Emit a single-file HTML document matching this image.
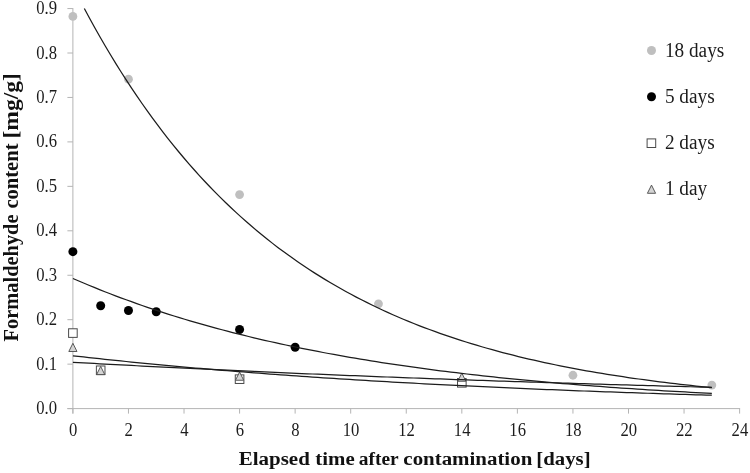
<!DOCTYPE html>
<html><head><meta charset="utf-8"><title>Formaldehyde content</title>
<style>
html,body{margin:0;padding:0;background:#fff;}
body{width:750px;height:473px;overflow:hidden;}
svg{display:block;font-family:"Liberation Serif",serif;}
.tk{font-size:18.5px;fill:#1c1c1c;}
.lg{font-size:20px;fill:#1c1c1c;}
.tt{font-size:19.3px;font-weight:bold;fill:#111;}
.ty{font-size:21.5px;font-weight:bold;fill:#111;}
.ax{stroke:#b4b4b4;stroke-width:1;fill:none;}
.cv{stroke:#1c1c1c;stroke-width:1.25;fill:none;}
.g{fill:#bfbfbf;}
.b{fill:#000;}
.sq{fill:#fff;stroke:#4a4a4a;stroke-width:1;}
.tr{fill:#d4d4d4;stroke:#4a4a4a;stroke-width:0.9;}
</style></head><body>
<svg width="750" height="473" viewBox="0 0 750 473">
<rect width="750" height="473" fill="#fff"/>

<path class="ax" d="M72.9 8.050000000000011V413.6"/>
<path class="ax" d="M67.4 408.6H740.12"/>
<path class="ax" d="M67.4 408.60H72.9"/>
<path class="ax" d="M67.4 364.15H72.9"/>
<path class="ax" d="M67.4 319.70H72.9"/>
<path class="ax" d="M67.4 275.25H72.9"/>
<path class="ax" d="M67.4 230.80H72.9"/>
<path class="ax" d="M67.4 186.35H72.9"/>
<path class="ax" d="M67.4 141.90H72.9"/>
<path class="ax" d="M67.4 97.45H72.9"/>
<path class="ax" d="M67.4 53.00H72.9"/>
<path class="ax" d="M67.4 8.55H72.9"/>
<path class="ax" d="M72.90 408.6V413.6"/>
<path class="ax" d="M128.46 408.6V413.6"/>
<path class="ax" d="M184.02 408.6V413.6"/>
<path class="ax" d="M239.58 408.6V413.6"/>
<path class="ax" d="M295.14 408.6V413.6"/>
<path class="ax" d="M350.70 408.6V413.6"/>
<path class="ax" d="M406.26 408.6V413.6"/>
<path class="ax" d="M461.82 408.6V413.6"/>
<path class="ax" d="M517.38 408.6V413.6"/>
<path class="ax" d="M572.94 408.6V413.6"/>
<path class="ax" d="M628.50 408.6V413.6"/>
<path class="ax" d="M684.06 408.6V413.6"/>
<path class="ax" d="M739.62 408.6V413.6"/>
<text class="tk" transform="translate(57.0 414.10) scale(0.9 1)" text-anchor="end">0.0</text>
<text class="tk" transform="translate(57.0 369.65) scale(0.9 1)" text-anchor="end">0.1</text>
<text class="tk" transform="translate(57.0 325.20) scale(0.9 1)" text-anchor="end">0.2</text>
<text class="tk" transform="translate(57.0 280.75) scale(0.9 1)" text-anchor="end">0.3</text>
<text class="tk" transform="translate(57.0 236.30) scale(0.9 1)" text-anchor="end">0.4</text>
<text class="tk" transform="translate(57.0 191.85) scale(0.9 1)" text-anchor="end">0.5</text>
<text class="tk" transform="translate(57.0 147.40) scale(0.9 1)" text-anchor="end">0.6</text>
<text class="tk" transform="translate(57.0 102.95) scale(0.9 1)" text-anchor="end">0.7</text>
<text class="tk" transform="translate(57.0 58.50) scale(0.9 1)" text-anchor="end">0.8</text>
<text class="tk" transform="translate(57.0 14.05) scale(0.9 1)" text-anchor="end">0.9</text>
<text class="tk" transform="translate(73.20 435.6) scale(0.9 1)" text-anchor="middle">0</text>
<text class="tk" transform="translate(128.76 435.6) scale(0.9 1)" text-anchor="middle">2</text>
<text class="tk" transform="translate(184.32 435.6) scale(0.9 1)" text-anchor="middle">4</text>
<text class="tk" transform="translate(239.88 435.6) scale(0.9 1)" text-anchor="middle">6</text>
<text class="tk" transform="translate(295.44 435.6) scale(0.9 1)" text-anchor="middle">8</text>
<text class="tk" transform="translate(351.00 435.6) scale(0.9 1)" text-anchor="middle">10</text>
<text class="tk" transform="translate(406.56 435.6) scale(0.9 1)" text-anchor="middle">12</text>
<text class="tk" transform="translate(462.12 435.6) scale(0.9 1)" text-anchor="middle">14</text>
<text class="tk" transform="translate(517.68 435.6) scale(0.9 1)" text-anchor="middle">16</text>
<text class="tk" transform="translate(573.24 435.6) scale(0.9 1)" text-anchor="middle">18</text>
<text class="tk" transform="translate(628.80 435.6) scale(0.9 1)" text-anchor="middle">20</text>
<text class="tk" transform="translate(684.36 435.6) scale(0.9 1)" text-anchor="middle">22</text>
<text class="tk" transform="translate(739.92 435.6) scale(0.9 1)" text-anchor="middle">24</text>
<text class="tt" x="238.71" y="465.4" textLength="71.13" lengthAdjust="spacingAndGlyphs">Elapsed</text>
<text class="tt" x="315.39" y="465.4" textLength="39.34" lengthAdjust="spacingAndGlyphs">time</text>
<text class="tt" x="358.88" y="465.4" textLength="39.87" lengthAdjust="spacingAndGlyphs">after</text>
<text class="tt" x="403.36" y="465.4" textLength="128.91" lengthAdjust="spacingAndGlyphs">contamination</text>
<text class="tt" x="536.34" y="465.4" textLength="54.31" lengthAdjust="spacingAndGlyphs">[days]</text>
<text class="ty" transform="translate(17.5 341.40) rotate(-90)" textLength="126.89" lengthAdjust="spacingAndGlyphs">Formaldehyde</text>
<text class="ty" transform="translate(17.5 208.57) rotate(-90)" textLength="65.10" lengthAdjust="spacingAndGlyphs">content</text>
<text class="ty" transform="translate(17.5 138.56) rotate(-90)" textLength="65.43" lengthAdjust="spacingAndGlyphs">[mg/g]</text>
<circle class="g" cx="72.90" cy="16.42" r="4.4"/>
<circle class="g" cx="128.46" cy="79.23" r="4.4"/>
<circle class="g" cx="239.58" cy="194.62" r="4.4"/>
<circle class="g" cx="378.48" cy="303.83" r="4.4"/>
<circle class="g" cx="572.94" cy="375.26" r="4.4"/>
<circle class="g" cx="711.84" cy="385.04" r="4.4"/>
<circle class="b" cx="72.90" cy="251.69" r="4.5"/>
<circle class="b" cx="100.68" cy="305.70" r="4.5"/>
<circle class="b" cx="128.46" cy="310.45" r="4.5"/>
<circle class="b" cx="156.24" cy="311.70" r="4.5"/>
<circle class="b" cx="239.58" cy="329.48" r="4.5"/>
<circle class="b" cx="295.14" cy="347.26" r="4.5"/>
<rect class="sq" x="68.60" y="328.78" width="8.6" height="8.6"/>
<rect class="sq" x="96.38" y="365.98" width="8.6" height="8.6"/>
<rect class="sq" x="235.28" y="374.87" width="8.6" height="8.6"/>
<rect class="sq" x="457.52" y="378.52" width="8.6" height="8.6"/>
<path class="tr" d="M72.90 343.30L77.00 351.50H68.80Z"/>
<path class="tr" d="M100.68 366.42L104.78 374.62H96.58Z"/>
<path class="tr" d="M239.58 372.06L243.68 380.26H235.48Z"/>
<path class="tr" d="M461.82 373.09L465.92 381.29H457.72Z"/>
<path class="cv" d="M84.34 8.55L89.57 18.26L94.80 27.73L100.03 36.97L105.26 45.99L110.49 54.79L115.72 63.37L120.95 71.75L126.18 79.92L131.40 87.90L136.63 95.68L141.86 103.27L147.09 110.68L152.32 117.91L157.55 124.97L162.78 131.85L168.01 138.56L173.24 145.12L178.47 151.51L183.70 157.75L188.93 163.84L194.15 169.77L199.38 175.57L204.61 181.22L209.84 186.74L215.07 192.12L220.30 197.38L225.53 202.50L230.76 207.50L235.99 212.38L241.22 217.15L246.45 221.79L251.67 226.32L256.90 230.75L262.13 235.06L267.36 239.27L272.59 243.38L277.82 247.39L283.05 251.30L288.28 255.12L293.51 258.84L298.74 262.48L303.97 266.02L309.20 269.48L314.42 272.86L319.65 276.15L324.88 279.37L330.11 282.50L335.34 285.56L340.57 288.55L345.80 291.46L351.03 294.30L356.26 297.08L361.49 299.78L366.72 302.42L371.95 305.00L377.17 307.51L382.40 309.97L387.63 312.36L392.86 314.70L398.09 316.97L403.32 319.20L408.55 321.37L413.78 323.48L419.01 325.55L424.24 327.56L429.47 329.53L434.70 331.45L439.92 333.32L445.15 335.15L450.38 336.93L455.61 338.67L460.84 340.37L466.07 342.02L471.30 343.64L476.53 345.21L481.76 346.75L486.99 348.25L492.22 349.72L497.44 351.15L502.67 352.54L507.90 353.90L513.13 355.23L518.36 356.52L523.59 357.79L528.82 359.02L534.05 360.22L539.28 361.40L544.51 362.54L549.74 363.66L554.97 364.75L560.19 365.81L565.42 366.85L570.65 367.87L575.88 368.85L581.11 369.82L586.34 370.76L591.57 371.68L596.80 372.57L602.03 373.45L607.26 374.30L612.49 375.13L617.72 375.94L622.94 376.74L628.17 377.51L633.40 378.26L638.63 379.00L643.86 379.72L649.09 380.42L654.32 381.10L659.55 381.77L664.78 382.42L670.01 383.06L675.24 383.68L680.47 384.28L685.69 384.87L690.92 385.45L696.15 386.01L701.38 386.56L706.61 387.09L711.84 387.61"/>
<path class="cv" d="M72.90 278.45L78.22 280.76L83.55 283.03L88.87 285.26L94.20 287.44L99.52 289.59L104.85 291.71L110.17 293.78L115.50 295.82L120.82 297.82L126.15 299.78L131.47 301.71L136.79 303.61L142.12 305.47L147.44 307.30L152.77 309.10L158.09 310.87L163.42 312.60L168.74 314.30L174.07 315.98L179.39 317.62L184.71 319.23L190.04 320.82L195.36 322.38L200.69 323.91L206.01 325.41L211.34 326.88L216.66 328.33L221.99 329.76L227.31 331.16L232.64 332.53L237.96 333.88L243.28 335.21L248.61 336.51L253.93 337.79L259.26 339.04L264.58 340.28L269.91 341.49L275.23 342.68L280.56 343.85L285.88 345.00L291.20 346.13L296.53 347.24L301.85 348.33L307.18 349.39L312.50 350.45L317.83 351.48L323.15 352.49L328.48 353.49L333.80 354.46L339.12 355.42L344.45 356.37L349.77 357.29L355.10 358.20L360.42 359.10L365.75 359.98L371.07 360.84L376.40 361.69L381.72 362.52L387.05 363.34L392.37 364.14L397.69 364.93L403.02 365.70L408.34 366.46L413.67 367.21L418.99 367.95L424.32 368.67L429.64 369.38L434.97 370.07L440.29 370.76L445.62 371.43L450.94 372.09L456.26 372.73L461.59 373.37L466.91 374.00L472.24 374.61L477.56 375.21L482.89 375.81L488.21 376.39L493.54 376.96L498.86 377.52L504.18 378.07L509.51 378.61L514.83 379.15L520.16 379.67L525.48 380.18L530.81 380.69L536.13 381.18L541.46 381.67L546.78 382.15L552.11 382.61L557.43 383.08L562.75 383.53L568.08 383.97L573.40 384.41L578.73 384.84L584.05 385.26L589.38 385.68L594.70 386.08L600.03 386.48L605.35 386.87L610.67 387.26L616.00 387.64L621.32 388.01L626.65 388.38L631.97 388.73L637.30 389.09L642.62 389.43L647.95 389.77L653.27 390.11L658.59 390.43L663.92 390.76L669.24 391.07L674.57 391.38L679.89 391.69L685.22 391.99L690.54 392.28L695.87 392.57L701.19 392.86L706.52 393.14L711.84 393.41"/>
<path class="cv" d="M72.90 355.79L78.22 356.39L83.55 356.99L88.87 357.58L94.20 358.16L99.52 358.73L104.85 359.30L110.17 359.86L115.50 360.41L120.82 360.96L126.15 361.50L131.47 362.04L136.79 362.57L142.12 363.09L147.44 363.61L152.77 364.12L158.09 364.63L163.42 365.13L168.74 365.62L174.07 366.11L179.39 366.60L184.71 367.07L190.04 367.55L195.36 368.01L200.69 368.47L206.01 368.93L211.34 369.38L216.66 369.83L221.99 370.27L227.31 370.71L232.64 371.14L237.96 371.56L243.28 371.98L248.61 372.40L253.93 372.81L259.26 373.22L264.58 373.62L269.91 374.02L275.23 374.41L280.56 374.80L285.88 375.19L291.20 375.57L296.53 375.94L301.85 376.31L307.18 376.68L312.50 377.05L317.83 377.40L323.15 377.76L328.48 378.11L333.80 378.46L339.12 378.80L344.45 379.14L349.77 379.47L355.10 379.81L360.42 380.13L365.75 380.46L371.07 380.78L376.40 381.09L381.72 381.41L387.05 381.72L392.37 382.02L397.69 382.32L403.02 382.62L408.34 382.92L413.67 383.21L418.99 383.50L424.32 383.79L429.64 384.07L434.97 384.35L440.29 384.62L445.62 384.90L450.94 385.17L456.26 385.43L461.59 385.70L466.91 385.96L472.24 386.21L477.56 386.47L482.89 386.72L488.21 386.97L493.54 387.22L498.86 387.46L504.18 387.70L509.51 387.94L514.83 388.17L520.16 388.40L525.48 388.63L530.81 388.86L536.13 389.09L541.46 389.31L546.78 389.53L552.11 389.74L557.43 389.96L562.75 390.17L568.08 390.38L573.40 390.59L578.73 390.79L584.05 391.00L589.38 391.20L594.70 391.39L600.03 391.59L605.35 391.78L610.67 391.97L616.00 392.16L621.32 392.35L626.65 392.54L631.97 392.72L637.30 392.90L642.62 393.08L647.95 393.25L653.27 393.43L658.59 393.60L663.92 393.77L669.24 393.94L674.57 394.11L679.89 394.27L685.22 394.44L690.54 394.60L695.87 394.76L701.19 394.91L706.52 395.07L711.84 395.22"/>
<path class="cv" d="M72.90 362.28L78.22 362.58L83.55 362.88L88.87 363.17L94.20 363.47L99.52 363.76L104.85 364.05L110.17 364.34L115.50 364.62L120.82 364.91L126.15 365.19L131.47 365.47L136.79 365.75L142.12 366.02L147.44 366.30L152.77 366.57L158.09 366.84L163.42 367.11L168.74 367.38L174.07 367.65L179.39 367.91L184.71 368.17L190.04 368.44L195.36 368.69L200.69 368.95L206.01 369.21L211.34 369.46L216.66 369.72L221.99 369.97L227.31 370.22L232.64 370.46L237.96 370.71L243.28 370.95L248.61 371.20L253.93 371.44L259.26 371.68L264.58 371.92L269.91 372.15L275.23 372.39L280.56 372.62L285.88 372.86L291.20 373.09L296.53 373.32L301.85 373.54L307.18 373.77L312.50 374.00L317.83 374.22L323.15 374.44L328.48 374.66L333.80 374.88L339.12 375.10L344.45 375.31L349.77 375.53L355.10 375.74L360.42 375.96L365.75 376.17L371.07 376.38L376.40 376.58L381.72 376.79L387.05 377.00L392.37 377.20L397.69 377.40L403.02 377.60L408.34 377.80L413.67 378.00L418.99 378.20L424.32 378.40L429.64 378.59L434.97 378.79L440.29 378.98L445.62 379.17L450.94 379.36L456.26 379.55L461.59 379.74L466.91 379.92L472.24 380.11L477.56 380.29L482.89 380.47L488.21 380.66L493.54 380.84L498.86 381.02L504.18 381.19L509.51 381.37L514.83 381.55L520.16 381.72L525.48 381.90L530.81 382.07L536.13 382.24L541.46 382.41L546.78 382.58L552.11 382.75L557.43 382.91L562.75 383.08L568.08 383.24L573.40 383.41L578.73 383.57L584.05 383.73L589.38 383.89L594.70 384.05L600.03 384.21L605.35 384.37L610.67 384.52L616.00 384.68L621.32 384.83L626.65 384.99L631.97 385.14L637.30 385.29L642.62 385.44L647.95 385.59L653.27 385.74L658.59 385.89L663.92 386.03L669.24 386.18L674.57 386.33L679.89 386.47L685.22 386.61L690.54 386.75L695.87 386.90L701.19 387.04L706.52 387.17L711.84 387.31"/>
<circle class="g" cx="651.5" cy="50.5" r="4.5"/>
<circle class="b" cx="651.5" cy="96.7" r="4.5"/>
<rect class="sq" x="647.10" y="138.90" width="8.6" height="8.6"/>
<path class="tr" d="M651.50 185.10L655.60 193.30H647.40Z"/>
<text class="lg" x="664.9" y="56.6" textLength="59.4" lengthAdjust="spacingAndGlyphs">18 days</text>
<text class="lg" x="664.9" y="102.8" textLength="49.8" lengthAdjust="spacingAndGlyphs">5 days</text>
<text class="lg" x="664.9" y="149.0" textLength="49.8" lengthAdjust="spacingAndGlyphs">2 days</text>
<text class="lg" x="664.9" y="195.2" textLength="42.3" lengthAdjust="spacingAndGlyphs">1 day</text>
</svg></body></html>
